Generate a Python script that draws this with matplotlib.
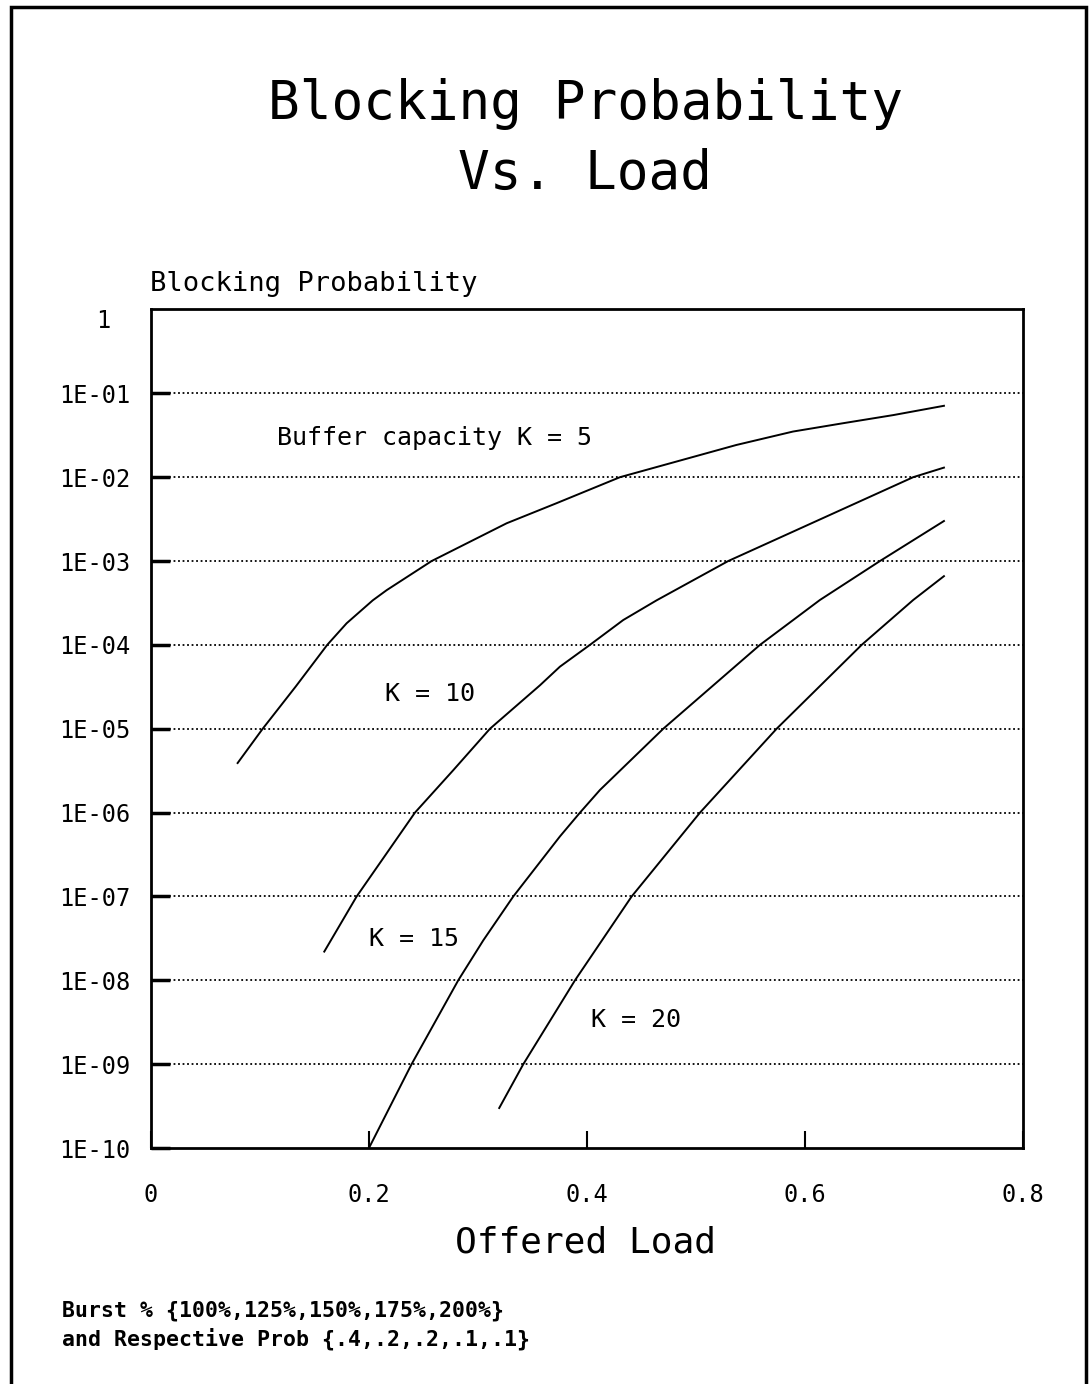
import numpy as np
import matplotlib.pyplot as plt
from matplotlib.patches import Rectangle

# Offered load vs. blocking probability for each buffer capacity K
load_k5 = [0.0795, 0.1025, 0.1329, 0.1617, 0.1795, 0.2035, 0.2163, 0.2575, 0.3263,
           0.3722, 0.4303, 0.537, 0.589, 0.635, 0.681, 0.7275]
prob_k5 = [3.9e-6, 1e-5, 3.2e-5, 1e-4, 1.81e-4, 3.4e-4, 4.5e-4, 1e-3, 2.82e-3,
           4.9e-3, 1e-2, 2.42e-2, 3.5e-2, 4.4e-2, 5.5e-2, 7.1e-2]

load_k10 = [0.159, 0.1887, 0.2422, 0.2773, 0.311, 0.3569, 0.3752, 0.4027, 0.4333,
            0.4639, 0.5296, 0.6993, 0.7275]
prob_k10 = [2.2e-8, 1e-7, 1e-6, 3.2e-6, 1e-5, 3.3e-5, 5.5e-5, 1e-4, 1.98e-4,
            3.4e-4, 1e-3, 1e-2, 1.3e-2]

load_k15 = [0.2, 0.2391, 0.2819, 0.3049, 0.3324, 0.3752, 0.3936, 0.4119, 0.470,
            0.5587, 0.5892, 0.6137, 0.6688, 0.7275]
prob_k15 = [1e-10, 1e-9, 1e-8, 3.0e-8, 1e-7, 5.2e-7, 1e-6, 1.86e-6, 1e-5,
            1e-4, 1.98e-4, 3.43e-4, 1e-3, 3.0e-3]

load_k20 = [0.3195, 0.3416, 0.389, 0.441, 0.5037, 0.574, 0.652, 0.6993, 0.7275]
prob_k20 = [3.0e-10, 1e-9, 1e-8, 1e-7, 1e-6, 1e-5, 1e-4, 3.43e-4, 6.6e-4]

ytick_vals = [1e-1, 1e-2, 1e-3, 1e-4, 1e-5, 1e-6, 1e-7, 1e-8, 1e-9, 1e-10]
ytick_text = ["1E-01", "1E-02", "1E-03", "1E-04", "1E-05", "1E-06", "1E-07", "1E-08", "1E-09", "1E-10"]
xtick_vals = [0, 0.2, 0.4, 0.6, 0.8]
xtick_text = ["0", "0.2", "0.4", "0.6", "0.8"]

curve_labels = ["Buffer capacity K = 5", "K = 10", "K = 15", "K = 20"]
label_pos = [(0.1157, 2.9e-2), (0.2147, 2.6e-5), (0.2003, 3.1e-8), (0.4034, 3.4e-9)]

plt.rcParams['font.family'] = ['DejaVu Sans Mono']

fig = plt.figure(figsize=(10.9, 13.84), dpi=100)
ax = fig.add_axes([0.1385, 0.1705, 0.8, 0.6059])

ax.set_yscale('log')
ax.set_xlim(0, 0.8)
ax.set_ylim(1e-10, 1)

for xs, ys in [(load_k5, prob_k5), (load_k10, prob_k10), (load_k15, prob_k15), (load_k20, prob_k20)]:
    ax.plot(xs, ys, color='black', lw=1.4)

# dotted horizontal grid at each decade
for v in ytick_vals[:-1]:
    ax.axhline(v, color='black', lw=1.3, ls=(0, (1, 1.5)))

for txt, (lx, ly) in zip(curve_labels, label_pos):
    ax.text(lx, ly, txt, fontsize=18, va='center', ha='left')

ax.set_yticks(ytick_vals)
ax.set_yticklabels(ytick_text)
ax.yaxis.set_minor_locator(plt.NullLocator())
ax.tick_params(axis='y', direction='in', length=14, width=2.5, pad=15, labelsize=17)
ax.text(-0.055, 1.0, "1", transform=ax.get_yaxis_transform(), fontsize=17,
        ha='center', va='top', clip_on=False)

ax.set_xticks(xtick_vals)
ax.set_xticklabels(xtick_text)
ax.tick_params(axis='x', direction='in', length=12, width=1.5, pad=25, labelsize=17)

for sp in ax.spines.values():
    sp.set_linewidth(2)

fig.text(0.5367, 0.9245, "Blocking Probability", fontsize=38, ha='center', va='center')
fig.text(0.5367, 0.874, "Vs. Load", fontsize=38, ha='center', va='center')
fig.text(0.1376, 0.7948, "Blocking Probability", fontsize=19.5, ha='left', va='center')
fig.text(0.5376, 0.1019, "Offered Load", fontsize=26, ha='center', va='center')
fig.text(0.0569, 0.0527, "Burst % {100%,125%,150%,175%,200%}", fontsize=15.5,
         fontweight='bold', ha='left', va='center')
fig.text(0.0569, 0.0325, "and Respective Prob {.4,.2,.2,.1,.1}", fontsize=15.5,
         fontweight='bold', ha='left', va='center')

# page border
fig.patches.append(Rectangle((0.010, -0.01), 0.986, 1.005, transform=fig.transFigure,
                             fill=False, edgecolor='black', lw=2.5))

fig.savefig("out.png", dpi=100)
